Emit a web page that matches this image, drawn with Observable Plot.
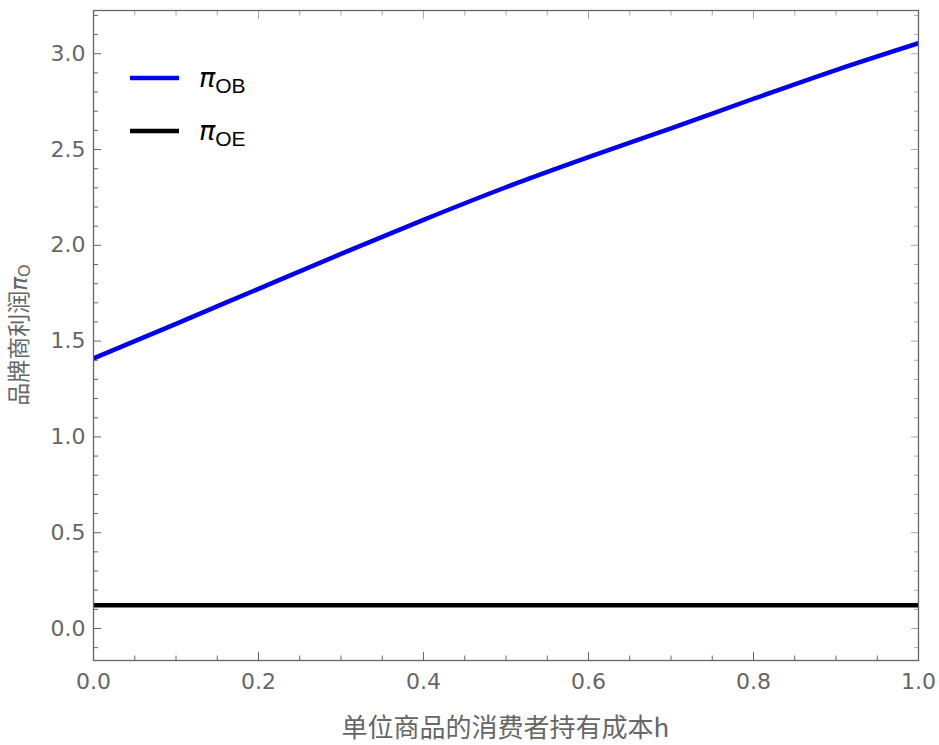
<!DOCTYPE html>
<html><head><meta charset="utf-8">
<script src="https://cdn.jsdelivr.net/npm/d3@7"></script>
<script src="https://cdn.jsdelivr.net/npm/@observablehq/plot@0.6"></script>
<style>
body{margin:0;background:#fff;}
#wrap{width:939px;height:745px;}
</style></head>
<body><div id="wrap"></div>
<script>
// Data
const h = [0, 0.1, 0.2, 0.3, 0.4, 0.5, 0.6, 0.7, 0.8, 0.9, 1.0];
const piOB = [1.41, 1.59, 1.773, 1.955, 2.133, 2.303, 2.46, 2.61, 2.765, 2.915, 3.055];
const piOE = [0.122, 0.122, 0.122, 0.122, 0.122, 0.122, 0.122, 0.122, 0.122, 0.122, 0.122];
const seriesNames = ["OB", "OE"];
const seriesColors = ["#0000ee", "#000000"];
const xTicks = [0, 0.2, 0.4, 0.6, 0.8, 1.0];
const yTicks = [0, 0.5, 1.0, 1.5, 2.0, 2.5, 3.0];
const xLabel = "单位商品的消费者持有成本h";
const yLabelText = "品牌商利润";

const xMinor = d3.range(0, 1.0001, 0.05).filter(v => !xTicks.some(t => Math.abs(t - v) < 1e-6));
const yMinor = d3.range(-0.1, 3.2001, 0.1).filter(v => !yTicks.some(t => Math.abs(t - v) < 1e-6));

const rows = [];
h.forEach((x, i) => {
  rows.push({h: x, v: piOB[i], s: seriesNames[0]});
  rows.push({h: x, v: piOE[i], s: seriesNames[1]});
});

const gray = "#666666";
const font = "'DejaVu Sans', 'Noto Sans CJK SC', sans-serif";
const fmt = d3.format(".1f");

const chart = Plot.plot({
  width: 939, height: 745,
  marginLeft: 93, marginRight: 21, marginTop: 10, marginBottom: 85,
  style: {color: gray, fontFamily: font, fontSize: "22px", background: "#fff"},
  x: {domain: [0, 1]},
  y: {domain: [-0.167, 3.2256]},
  color: {domain: seriesNames, range: seriesColors},
  marks: [
    // labels
    Plot.axisX(xTicks, {anchor: "bottom", tickSize: 0, tickPadding: 13, tickFormat: fmt, label: null, fill: gray}),
    Plot.axisY(yTicks, {anchor: "left", tickSize: 0, tickPadding: 8, tickFormat: fmt, label: null, fill: gray}),
    // inward ticks
    Plot.axisX(xTicks, {anchor: "bottom", tickSize: -8, tickFormat: () => "", label: null, stroke: gray}),
    Plot.axisX(xMinor, {anchor: "bottom", tickSize: -4.5, tickFormat: () => "", label: null, stroke: gray}),
    Plot.axisX(xTicks, {anchor: "top", tickSize: -8, tickFormat: () => "", label: null, stroke: "#aaa"}),
    Plot.axisX(xMinor, {anchor: "top", tickSize: -4.5, tickFormat: () => "", label: null, stroke: "#aaa"}),
    Plot.axisY(yTicks, {anchor: "left", tickSize: -8, tickFormat: () => "", label: null, stroke: gray}),
    Plot.axisY(yMinor, {anchor: "left", tickSize: -5, tickFormat: () => "", label: null, stroke: gray}),
    Plot.axisY(yTicks, {anchor: "right", tickSize: -8, tickFormat: () => "", label: null, stroke: "#aaa"}),
    Plot.axisY(yMinor, {anchor: "right", tickSize: -5, tickFormat: () => "", label: null, stroke: "#aaa"}),
    Plot.line(rows, {x: "h", y: "v", z: "s", stroke: "s", strokeWidth: 4.5, curve: "monotone-x", clip: true}),
    Plot.frame({stroke: gray, strokeWidth: 1.3})
  ]
});
document.getElementById("wrap").appendChild(chart);

const svg = d3.select(chart);
// X axis title
svg.append("text")
  .attr("x", 505.5).attr("y", 725)
  .attr("text-anchor", "middle").attr("dominant-baseline", "central")
  .attr("fill", gray).style("font-family", "'Noto Sans CJK SC', sans-serif").style("font-size", "26px")
  .text(xLabel);

// Y axis title (rotated) with italic pi and subscript O
const yl = svg.append("text")
  .attr("transform", "translate(27,335) rotate(-90)")
  .attr("text-anchor", "middle")
  .attr("fill", gray).style("font-family", "'Noto Sans CJK SC', sans-serif").style("font-size", "23px");
yl.append("tspan").text(yLabelText);
yl.append("tspan").style("font-family", "'DejaVu Sans', sans-serif").style("font-style", "italic").text("π");
yl.append("tspan").attr("dy", 3).style("font-family", "'DejaVu Sans', sans-serif").style("font-size", "16px").text("O");

// Legend
const legY = [78, 131];
seriesNames.forEach((name, i) => {
  svg.append("line")
    .attr("x1", 130).attr("x2", 179).attr("y1", legY[i]).attr("y2", legY[i])
    .attr("stroke", seriesColors[i]).attr("stroke-width", 4.5);
  const t = svg.append("text")
    .attr("x", 199).attr("y", legY[i] + 9)
    .attr("text-anchor", "start")
    .attr("fill", "#000").style("font-size", "27px");
  t.append("tspan").style("font-family", "'DejaVu Sans', sans-serif").style("font-style", "italic").text("π");
  t.append("tspan").attr("dy", 6).style("font-family", "'Liberation Sans', sans-serif").style("font-size", "21px").text(name);
});
</script>
</body></html>
